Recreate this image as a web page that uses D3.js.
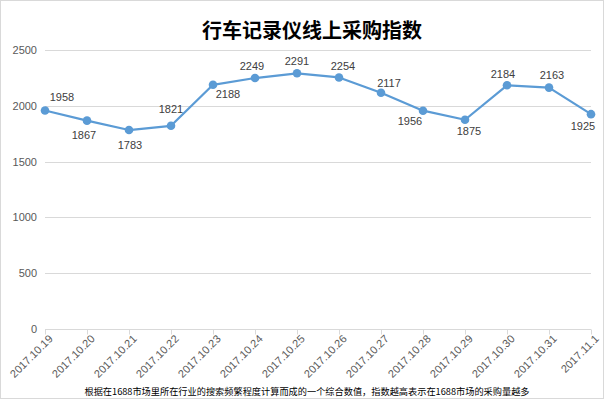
<!DOCTYPE html>
<html>
<head>
<meta charset="utf-8">
<script src="https://cdn.jsdelivr.net/npm/d3@7"></script>
<style>
  body { margin: 0; background: #fff; }
  svg { display: block; font-family: "Liberation Sans", Arial, sans-serif; }
</style>
</head>
<body>
<div id="chart"></div>
<script>
// data
const dates = ["2017.10.19", "2017.10.20", "2017.10.21", "2017.10.22", "2017.10.23", "2017.10.24", "2017.10.25",
               "2017.10.26", "2017.10.27", "2017.10.28", "2017.10.29", "2017.10.30", "2017.10.31", "2017.11.1"]
const values = [1958, 1867, 1783, 1821, 2188, 2249, 2291, 2254, 2117, 1956, 1875, 2184, 2163, 1925]
const yTicks = [0, 500, 1000, 1500, 2000, 2500]
const title = "行车记录仪线上采购指数"
const note = "根据在1688市场里所在行业的搜索频繁程度计算而成的一个综合数值，指数越高表示在1688市场的采购量越多"

// where each data label sits relative to its point (like excel did it)
const labelOffsets = [[17, -13], [-3, 15], [1, 15], [0, -17], [15, 9], [-3, -12], [0, -12],
                      [4, -11], [8, -10], [-13, 10], [4, 11], [-4, -11], [3, -12], [-8, 12]]

var width = 604, height = 399
var margin = {top: 50, right: 13, bottom: 70, left: 45}

var svg = d3.select("#chart").append("svg")
    .attr("width", width)
    .attr("height", height)

// outer frame
svg.append("rect")
    .attr("x", 0.5).attr("y", 0.5)
    .attr("width", width - 1).attr("height", height - 1)
    .attr("fill", "#fff")
    .attr("stroke", "#d9d9d9")

var x = d3.scalePoint()
    .domain(dates)
    .range([margin.left, width - margin.right])

var y = d3.scaleLinear()
    .domain([0, 2500])
    .range([height - margin.bottom, margin.top])

// gridlines
svg.append("g")
  .selectAll("line")
  .data(yTicks.filter(d => d > 0))
  .enter().append("line")
    .attr("x1", margin.left).attr("x2", width - margin.right)
    .attr("y1", d => Math.round(y(d)) + 0.5).attr("y2", d => Math.round(y(d)) + 0.5)
    .attr("stroke", "#d9d9d9")

// y axis labels
var yAxis = svg.append("g")
    .attr("transform", "translate(" + (margin.left - 8) + ",0)")
    .call(d3.axisLeft(y).tickValues(yTicks).tickFormat(d3.format("d")).tickSize(0).tickPadding(0))
yAxis.select(".domain").remove()
yAxis.selectAll("text")
    .attr("fill", "#595959")
    .style("font-size", "11px")

// x axis
var xAxis = svg.append("g")
    .attr("transform", "translate(0," + (Math.round(y(0)) + 0.5) + ")")
    .call(d3.axisBottom(x).tickSize(5).tickSizeOuter(0))
xAxis.select(".domain")
    .attr("stroke", "#d9d9d9")
    .attr("d", "M" + margin.left + ",0H" + (width - margin.right))
xAxis.selectAll(".tick line").attr("stroke", "#d9d9d9")
xAxis.selectAll("text")
    .attr("fill", "#595959")
    .style("font-size", "11px")
    .style("text-anchor", "end")
    .attr("dy", 0)
    .attr("y", 0)
    .attr("transform", "translate(8,10) rotate(-45)")

// line + markers
var line = d3.line()
    .x((d, i) => x(dates[i]))
    .y(d => y(d))

svg.append("path")
    .datum(values)
    .attr("d", line)
    .attr("fill", "none")
    .attr("stroke", "#5b9bd5")
    .attr("stroke-width", 2.25)
    .attr("stroke-linejoin", "round")

svg.append("g")
  .selectAll("circle")
  .data(values)
  .enter().append("circle")
    .attr("cx", (d, i) => x(dates[i]))
    .attr("cy", d => y(d))
    .attr("r", 4.3)
    .attr("fill", "#5b9bd5")

// data labels
svg.append("g")
  .selectAll("text")
  .data(values)
  .enter().append("text")
    .text(d => d)
    .attr("x", (d, i) => x(dates[i]) + labelOffsets[i][0])
    .attr("y", (d, i) => y(d) + labelOffsets[i][1])
    .attr("dy", "0.35em")
    .attr("text-anchor", "middle")
    .attr("fill", "#404040")
    .style("font-size", "11px")

// title
svg.append("text")
    .attr("x", 312).attr("y", 38)
    .attr("text-anchor", "middle")
    .style("font-family", "'Noto Sans CJK SC', sans-serif")
    .style("font-size", "20px")
    .style("font-weight", "bold")
    .attr("fill", "#000")
    .text(title)

// footnote
svg.append("text")
    .attr("x", 307).attr("y", 395)
    .attr("text-anchor", "middle")
    .style("font-family", "'Noto Sans CJK SC', sans-serif")
    .style("font-size", "9.2px")
    .attr("fill", "#000")
    .text(note)
</script>
</body>
</html>
